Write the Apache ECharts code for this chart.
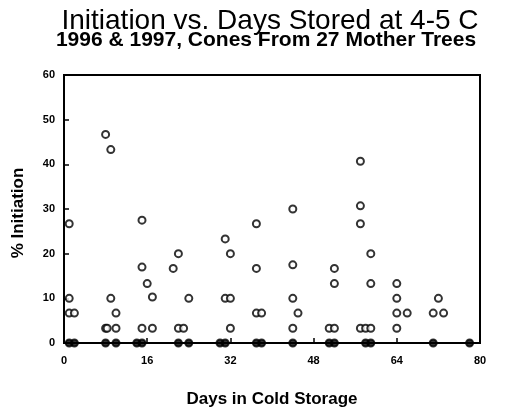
<!DOCTYPE html>
<html>
<head>
<meta charset="utf-8">
<script src="https://cdn.jsdelivr.net/npm/echarts@6/dist/echarts.min.js"></script>
<style>html,body{margin:0;padding:0;background:#fff}#c{width:508px;height:408px}</style>
</head>
<body>
<div id="c"></div>
<script>
var titleText = 'Initiation vs. Days Stored at 4-5 C';
var subtitleText = '1996 & 1997, Cones From 27 Mother Trees';
var xName = 'Days in Cold Storage';
var yName = '% Initiation';
var xTicks = [0, 16, 32, 48, 64, 80];
var yTicks = [0, 10, 20, 30, 40, 50, 60];

var days = [
  1, 1, 1, 1, 2, 2,
  8, 8, 8.3, 8, 9, 9, 10, 10, 10,
  14, 15, 15, 15, 15, 16, 17, 17,
  21, 22, 22, 22, 23, 24, 24,
  30, 31, 31, 31, 32, 32, 32,
  37, 37, 37, 37, 38, 38,
  44, 44, 44, 44, 44, 45,
  51, 51, 52, 52, 52, 52,
  57, 57, 57, 57, 58, 58, 59, 59, 59, 59,
  64, 64, 64, 64, 66,
  71, 71, 72, 73, 78
];
var pct = [
  26.7, 10, 6.7, 0, 6.7, 0,
  46.7, 3.3, 3.3, 0, 43.3, 10, 6.7, 3.3, 0,
  0, 27.5, 17, 3.3, 0, 13.3, 10.3, 3.3,
  16.7, 20, 3.3, 0, 3.3, 10, 0,
  0, 23.3, 10, 0, 20, 10, 3.3,
  26.7, 16.7, 6.7, 0, 6.7, 0,
  30, 17.5, 10, 3.3, 0, 6.7,
  3.3, 0, 16.7, 13.3, 3.3, 0,
  40.7, 30.7, 26.7, 3.3, 3.3, 0, 20, 13.3, 3.3, 0,
  13.3, 10, 6.7, 3.3, 6.7,
  6.7, 0, 10, 6.7, 0
];

var pts = days.map(function (d, i) {
  var v = pct[i];
  return v === 0
    ? { value: [d, v], itemStyle: { color: '#000' } }
    : { value: [d, v] };
});

var font = '"Liberation Sans", Arial, Helvetica, sans-serif';
var chart = echarts.init(document.getElementById('c'), null, { renderer: 'canvas' });
chart.setOption({
  animation: false,
  backgroundColor: '#fff',
  graphic: [
    { type: 'text', x: 270, y: 7, style: { text: titleText, align: 'center', verticalAlign: 'top',
      font: 'normal 28px ' + font, fill: '#000' } },
    { type: 'text', x: 266, y: 30, style: { text: subtitleText, align: 'center', verticalAlign: 'top',
      font: 'bold 21px ' + font, fill: '#000' } },
    { type: 'text', x: 18, y: 213, rotation: Math.PI / 2, style: { text: yName, align: 'center', verticalAlign: 'middle',
      font: 'bold 17px ' + font, fill: '#000' } }
  ],
  grid: { left: 64, right: 28, top: 75, bottom: 65, containLabel: false, outerBoundsMode: 'none',
    show: true, borderColor: '#000', borderWidth: 2, backgroundColor: 'transparent' },
  xAxis: {
    type: 'value', min: xTicks[0], max: xTicks[xTicks.length - 1], interval: 16,
    name: xName, nameLocation: 'middle', nameGap: 48,
    nameTextStyle: { fontFamily: font, fontSize: 17, fontWeight: 'bold', color: '#000' },
    axisLine: { lineStyle: { color: '#000', width: 2 } },
    axisTick: { inside: true, length: 5, lineStyle: { color: '#000', width: 1.5 } },
    axisLabel: { margin: 12, fontFamily: font, fontSize: 11, fontWeight: 'bold', color: '#000' },
    splitLine: { show: false }
  },
  yAxis: {
    type: 'value', min: yTicks[0], max: yTicks[yTicks.length - 1], interval: 10,
    axisLine: { show: true, lineStyle: { color: '#000', width: 2 } },
    axisTick: { show: true, inside: true, length: 5, lineStyle: { color: '#000', width: 1.5 } },
    axisLabel: { margin: 9, fontFamily: font, fontSize: 11, fontWeight: 'bold', color: '#000' },
    splitLine: { show: false }
  },
  series: [{
    type: 'scatter',
    data: pts,
    symbol: 'circle',
    symbolSize: 7,
    clip: false,
    itemStyle: { color: '#fff', borderColor: '#000', borderWidth: 2 }
  }]
});
</script>
</body>
</html>
